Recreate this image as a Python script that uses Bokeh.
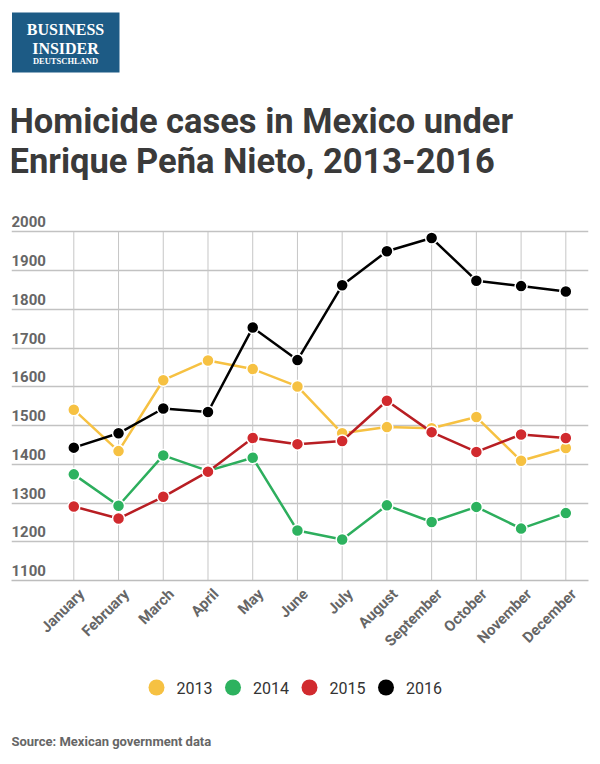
import math
from bokeh.plotting import figure
from bokeh.models import Range1d, FixedTicker, ColumnDataSource
from bokeh.layouts import column
from bokeh.embed import file_html
from bokeh.resources import INLINE
from bokeh.core.properties import value

# ---------------- data ----------------
months = ["January", "February", "March", "April", "May", "June", "July",
          "August", "September", "October", "November", "December"]
years = ["2013", "2014", "2015", "2016"]
cases_2013 = [1541, 1434, 1617, 1668, 1646, 1601, 1480, 1496, 1493, 1522, 1409, 1442]
cases_2014 = [1374, 1293, 1423, 1383, 1417, 1229, 1206, 1294, 1251, 1290, 1234, 1274]
cases_2015 = [1291, 1260, 1316, 1381, 1468, 1452, 1460, 1564, 1483, 1432, 1477, 1468]
cases_2016 = [1443, 1480, 1544, 1535, 1753, 1669, 1862, 1950, 1984, 1874, 1860, 1846]
y_ticks = [1100, 1200, 1300, 1400, 1500, 1600, 1700, 1800, 1900, 2000]
y_tick_labels = [str(t) for t in y_ticks]

title_lines = ["Homicide cases in Mexico under", "Enrique Peña Nieto, 2013-2016"]
logo_lines = ["BUSINESS", "INSIDER", "DEUTSCHLAND"]
source_text = "Source: Mexican government data"

line_colors = ["#F6C142", "#2DAE5D", "#B81E23", "#000000"]
marker_colors = ["#F6C142", "#2DB25F", "#D12A2E", "#000000"]
series_values = [cases_2013, cases_2014, cases_2015, cases_2016]

# shared horizontal frame geometry (column layouts align the plot frames)
FRAME_L, FRAME_W, FRAME_R = 11, 577, 12


def blank_panel(height):
    f = figure(frame_width=FRAME_W, frame_height=height,
               x_range=Range1d(FRAME_L, FRAME_L + FRAME_W), y_range=Range1d(height, 0),
               output_backend="svg", toolbar_location=None,
               min_border_left=FRAME_L, min_border_right=FRAME_R,
               min_border_top=0, min_border_bottom=0,
               x_axis_location=None, y_axis_location=None, outline_line_color=None)
    f.xgrid.visible = False
    f.ygrid.visible = False
    return f


# ---------------- header (logo + title) ----------------
head = blank_panel(212)
head.quad(left=[11.5], right=[119], top=[12], bottom=[72], fill_color="#1D5B85", line_color=None)
head.text(x=[65, 65], y=[28.5, 47.5], text=logo_lines[:2],
          text_font=value("Liberation Serif"), text_font_size="16px", text_font_style="bold",
          text_color="white", text_align="center", text_baseline="middle")
head.text(x=[65], y=[60.5], text=logo_lines[2:],
          text_font=value("Liberation Serif"), text_font_size="8.5px", text_font_style="bold",
          text_color="white", text_align="center", text_baseline="middle")
head.text(x=[9, 9], y=[120.5, 160], text=title_lines,
          text_font=value("Roboto"), text_font_size="34.5px", text_font_style="bold",
          text_color="#3a3a3a", text_align="left", text_baseline="middle")

# ---------------- main chart ----------------
x_idx = list(range(len(months)))
p = figure(frame_width=FRAME_W, frame_height=368,
           x_range=Range1d(-1.393, 11.507), y_range=Range1d(1100, 2050),
           output_backend="svg", toolbar_location=None,
           min_border_left=FRAME_L, min_border_right=FRAME_R, min_border_top=0, min_border_bottom=80,
           y_axis_location=None, outline_line_color=None)
p.xgrid.visible = False
p.ygrid.ticker = FixedTicker(ticks=y_ticks)
p.ygrid.grid_line_color = "#c2c2c2"
p.ygrid.grid_line_width = 1.3

# vertical month grid lines (only between the lowest and highest tick)
p.segment(x0=x_idx, x1=x_idx, y0=[min(y_ticks)] * len(x_idx), y1=[max(y_ticks)] * len(x_idx),
          line_color="#c6c6c6", line_width=1)

# y tick labels sitting above their grid lines
p.text(x=[p.x_range.start] * len(y_ticks), y=y_ticks, text=y_tick_labels,
       text_font=value("Roboto"), text_font_style="bold", text_font_size="15px",
       text_color="#666666", text_align="left", text_baseline="middle",
       x_offset=0, y_offset=-10)

# month labels: rotated, their ends sitting just right of each grid line
label_pos = [round(i + 0.18, 2) for i in x_idx]
xa = p.xaxis[0]
xa.ticker = FixedTicker(ticks=label_pos)
xa.major_label_overrides = {lp: m for lp, m in zip(label_pos, months)}
xa.major_label_orientation = math.pi / 4
xa.major_tick_line_color = None
xa.minor_tick_line_color = None
xa.axis_line_color = "#bdbdbd"
xa.axis_line_width = 1.5
xa.major_label_text_font = "Roboto"
xa.major_label_text_font_style = "bold"
xa.major_label_text_font_size = "15px"
xa.major_label_text_color = "#666666"
xa.major_label_standoff = 5

for vals, lc, mc in zip(series_values, line_colors, marker_colors):
    src = ColumnDataSource(dict(x=x_idx, y=vals))
    p.line("x", "y", source=src, line_color=lc, line_width=2.5)
    p.scatter("x", "y", source=src, size=12, fill_color=mc, line_color="white", line_width=1.5)

# ---------------- footer (legend + source) ----------------
foot = blank_panel(104)
leg_x = [156 + 76.5 * i for i in range(len(years))]
leg_y = [27] * len(years)
foot.scatter(x=leg_x, y=leg_y, size=16, fill_color=marker_colors, line_color=None)
foot.text(x=[lx + 20 for lx in leg_x], y=leg_y, text=years,
          text_font=value("Roboto"), text_font_size="16px", text_color="#333333",
          text_align="left", text_baseline="middle")
foot.text(x=[11], y=[80.5], text=[source_text],
          text_font=value("Roboto"), text_font_style="bold", text_font_size="13px",
          text_color="#666666", text_align="left", text_baseline="middle")

layout = column(head, p, foot)
open("out.html", "w").write(file_html(layout, INLINE))
